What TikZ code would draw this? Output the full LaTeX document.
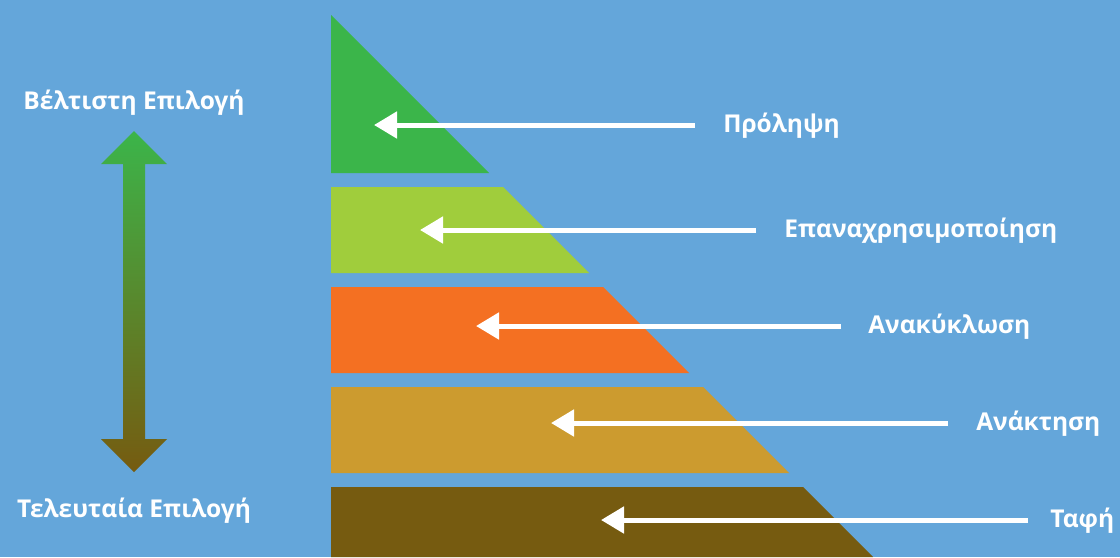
\documentclass[tikz,border=0pt]{standalone}
\usepackage{fontspec}
\setmainfont{Open Sans}
\usetikzlibrary{arrows.meta}
\definecolor{bgblue}{RGB}{100,166,218}
\definecolor{prgreen}{RGB}{59,181,74}
\definecolor{relime}{RGB}{160,205,60}
\definecolor{recorange}{RGB}{244,112,34}
\definecolor{rectan}{RGB}{204,155,47}
\definecolor{landbrown}{RGB}{118,91,16}

\begin{document}
\begin{tikzpicture}[x=0.75pt,y=-0.75pt,
  lbl/.style={text=white,font=\bfseries\fontsize{18.4}{21}\selectfont,inner sep=0pt},
  wastearrow/.style={white,line width=3.75pt,-{Triangle[length=17.25pt,width=19.5pt]}}]
\fill[bgblue](0,0)rectangle(1120,557);
\useasboundingbox(0,0)rectangle(1120,557);

% pyramid bands
\fill[prgreen](331,15)--(489,173)--(331,173)--cycle;
\fill[relime](331,187)--(503,187)--(589,273)--(331,273)--cycle;
\fill[recorange](331,287)--(603,287)--(689,373)--(331,373)--cycle;
\fill[rectan](331,387)--(703,387)--(789,473)--(331,473)--cycle;
\fill[landbrown](331,487)--(803,487)--(873,557)--(331,557)--cycle;

% best / last choice
\node[lbl,anchor=base](best)at(134,109){Βέλτιστη Επιλογή};
\node[lbl,anchor=base](last)at(134,517){Τελευταία Επιλογή};
\shade[top color=prgreen,bottom color=landbrown]
  (134,131)--(167,164)--(145,164)--(145,439)--(167,439)--(134,472)
  --(101,439)--(123,439)--(123,164)--(101,164)--cycle;

% labels and arrows
\node[lbl,anchor=base west](prev)at(723,132){Πρόληψη};
\coordinate(prevend)at(695,125);
\coordinate(prevtip)at(374,125);
\draw[wastearrow](prevend)--(prevtip);

\node[lbl,anchor=base west](reuse)at(784,237){Επαναχρησιμοποίηση};
\coordinate(reuseend)at(756,230);
\coordinate(reusetip)at(420,230);
\draw[wastearrow](reuseend)--(reusetip);

\node[lbl,anchor=base west](recyc)at(868,333){Ανακύκλωση};
\coordinate(recycend)at(841,326);
\coordinate(recyctip)at(476,326);
\draw[wastearrow](recycend)--(recyctip);

\node[lbl,anchor=base west](recov)at(976,430){Ανάκτηση};
\coordinate(recovend)at(948,423);
\coordinate(recovtip)at(551,423);
\draw[wastearrow](recovend)--(recovtip);

\node[lbl,anchor=base west](landf)at(1050,527){Ταφή};
\coordinate(landfend)at(1028,520);
\coordinate(landftip)at(601,520);
\draw[wastearrow](landfend)--(landftip);

\end{tikzpicture}
\end{document}
